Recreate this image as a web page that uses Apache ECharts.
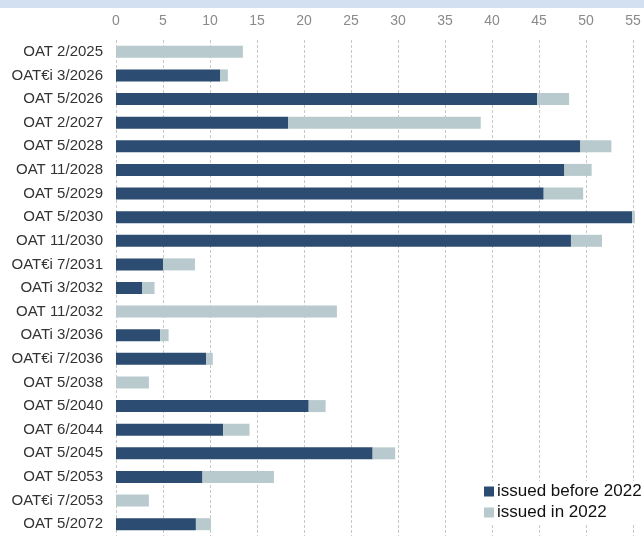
<!DOCTYPE html>
<html>
<head>
<meta charset="utf-8">
<script src="https://cdn.jsdelivr.net/npm/echarts@6/dist/echarts.min.js"></script>
<style>
  html, body { margin: 0; padding: 0; background: #fff; }
  #chart { width: 644px; height: 538px; }
</style>
</head>
<body>
<div id="chart"></div>
<script>
// bonds (top to bottom)
const bonds = [
    'OAT 2/2025', 'OAT€i 3/2026', 'OAT 5/2026', 'OAT 2/2027', 'OAT 5/2028',
    'OAT 11/2028', 'OAT 5/2029', 'OAT 5/2030', 'OAT 11/2030', 'OAT€i 7/2031',
    'OATi 3/2032', 'OAT 11/2032', 'OATi 3/2036', 'OAT€i 7/2036', 'OAT 5/2038',
    'OAT 5/2040', 'OAT 6/2044', 'OAT 5/2045', 'OAT 5/2053', 'OAT€i 7/2053',
    'OAT 5/2072'
]
const issuedBefore = [
    0, 11.1, 44.8, 18.3, 49.4,
    47.7, 45.5, 54.9, 48.4, 5.0,
    2.8, 0, 4.7, 9.6, 0,
    20.5, 11.4, 27.3, 9.2, 0,
    8.5
]
const issuedIn2022 = [
    13.5, 0.8, 3.4, 20.5, 3.3,
    2.9, 4.2, 0.3, 3.3, 3.4,
    1.3, 23.5, 0.9, 0.7, 3.5,
    1.8, 2.8, 2.4, 7.6, 3.5,
    1.6
]
const seriesNames = ['issued before 2022', 'issued in 2022']

const chart = echarts.init(document.getElementById('chart'))

const option = {
    animation: false,
    textStyle: { fontFamily: 'Liberation Sans, Arial, sans-serif' },
    // light blue band on top
    graphic: [{
        type: 'rect',
        shape: { x: 0, y: 0, width: 644, height: 8 },
        style: { fill: '#d3e0f1' },
        silent: true
    }],
    grid: {
        left: 116,
        right: 0,
        top: 40,
        bottom: 2
    },
    legend: {
        orient: 'vertical',
        left: 480,
        top: 481,
        itemWidth: 10,
        itemHeight: 10,
        itemGap: 4,
        padding: [2, 4, 2, 4],
        backgroundColor: '#fff',
        icon: 'rect',
        textStyle: { fontSize: 17, color: '#111', padding: [0, 0, 0, -2] },
        data: seriesNames
    },
    xAxis: {
        type: 'value',
        position: 'top',
        min: 0,
        max: 56.17,
        interval: 5,
        axisLine: { show: false },
        axisTick: { show: false },
        axisLabel: {
            color: '#8a8a8a',
            fontSize: 14,
            margin: 12,
            showMaxLabel: false,
            formatter: v => (v % 5 === 0 ? v : '')
        },
        splitLine: {
            show: true,
            lineStyle: { color: '#c8c8c8', type: [3, 2], width: 1 }
        }
    },
    yAxis: {
        type: 'category',
        inverse: true,
        data: bonds,
        axisLine: { show: false },
        axisTick: { show: false },
        axisLabel: { color: '#333', fontSize: 15, margin: 13 }
    },
    series: [
        {
            name: seriesNames[0],
            type: 'bar',
            stack: 'total',
            barWidth: 12,
            itemStyle: { color: '#2c4c72' },
            data: issuedBefore
        },
        {
            name: seriesNames[1],
            type: 'bar',
            stack: 'total',
            barWidth: 12,
            itemStyle: { color: '#b8cacd' },
            data: issuedIn2022
        }
    ]
}

chart.setOption(option)
</script>
</body>
</html>
